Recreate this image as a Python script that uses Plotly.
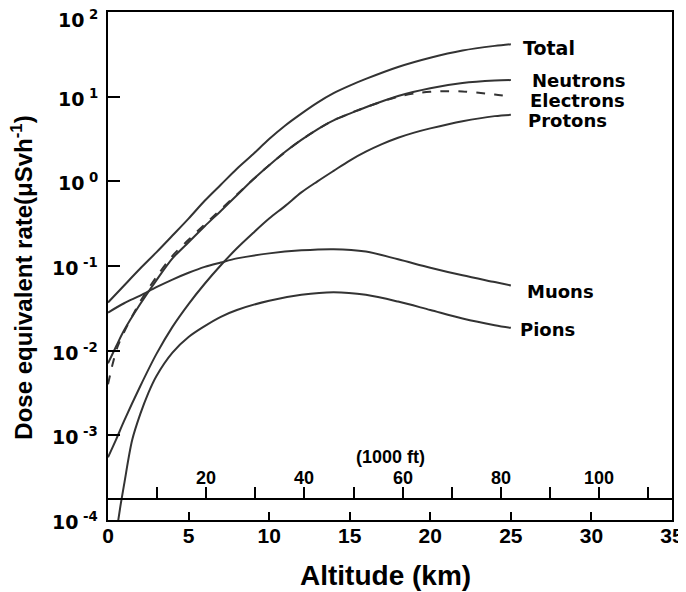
import math
import plotly.graph_objects as go

# ---- data (altitude in km, dose equivalent rate in uSv/h) ----
total_km = [0, 1, 2, 3, 4, 5, 6, 7, 8, 9, 10, 11, 12, 13, 14, 15, 16, 18, 20, 22, 24, 25]
total_val = [0.037, 0.0589, 0.0933, 0.145, 0.229, 0.363, 0.589, 0.912, 1.41, 2.09, 3.16,
             4.57, 6.31, 8.51, 11.0, 13.5, 16.2, 22.4, 28.8, 35.1, 39.8, 41.7]

neutron_km = [0, 0.5, 1, 2, 3, 4, 5, 6, 7, 8, 9, 10, 11, 12, 13, 14, 15, 16, 18, 20, 22, 24, 25]
neutron_val = [0.0071, 0.0112, 0.0174, 0.0355, 0.0676, 0.123, 0.191, 0.295, 0.447, 0.684,
               1.05, 1.55, 2.24, 3.09, 4.12, 5.25, 6.31, 7.5, 10.2, 12.6, 14.5, 15.5, 15.7]

electron_km = [0, 0.3, 0.6, 1, 2, 3, 4, 5, 6, 8, 10, 12, 14, 16, 18, 19, 20, 21, 22, 23, 24, 25]
electron_val = [0.004, 0.0071, 0.0112, 0.0166, 0.038, 0.074, 0.132, 0.204, 0.31, 0.70,
                1.55, 3.09, 5.25, 7.5, 10.0, 10.9, 11.4, 11.6, 11.5, 11.1, 10.6, 10.0]

proton_km = [0, 0.5, 1, 2, 3, 4, 5, 6, 7, 8, 9, 10, 11, 12, 13, 14, 15, 16, 17, 18, 19, 20, 22, 24, 25]
proton_val = [5.5e-4, 8.9e-4, 1.48e-3, 3.8e-3, 9.1e-3, 0.0191, 0.0355, 0.0617, 0.102, 0.162,
              0.245, 0.363, 0.513, 0.741, 1.0, 1.33, 1.76, 2.24, 2.75, 3.27, 3.76, 4.22,
              5.13, 5.89, 6.1]

muon_km = [0, 1, 2, 3, 4, 5, 6, 7, 8, 10, 12, 14, 16, 18, 20, 22, 24, 25]
muon_val = [0.0282, 0.0363, 0.0447, 0.0562, 0.0692, 0.0832, 0.0977, 0.110, 0.123,
            0.141, 0.153, 0.158, 0.148, 0.120, 0.0955, 0.0776, 0.0646, 0.0589]

pion_km = [0.6, 0.8, 1.0, 1.5, 2, 2.5, 3, 4, 5, 6, 7, 8, 10, 12, 14, 16, 18, 20, 22, 24, 25]
pion_val = [8.9e-5, 1.58e-4, 2.63e-4, 8.8e-4, 1.78e-3, 3.16e-3, 5.0e-3, 9.5e-3, 0.0145,
            0.0195, 0.0251, 0.0302, 0.0389, 0.0457, 0.049, 0.0457, 0.038, 0.0302,
            0.024, 0.02, 0.0186]

y_tick_vals = [1e-4, 1e-3, 1e-2, 1e-1, 1e0, 1e1, 1e2]
y_tick_text = ["10<sup> -4</sup>", "10<sup> -3</sup>", "10<sup> -2</sup>", "10<sup> -1</sup>",
               "10<sup> 0</sup>", "10<sup> 1</sup>", "10<sup> 2</sup>"]
x_tick_vals = [0, 5, 10, 15, 20, 25, 30, 35]
ft_tick_vals = [10, 20, 30, 40, 50, 60, 70, 80, 90, 100, 110]
ft_label_vals = [20, 40, 60, 80, 100]

KM_PER_KFT = 0.3048
X_MAX_KM = 35

LINE = "#333333"
ARIAL = "Liberation Sans"
WIDE = "DejaVu Sans"

fig = go.Figure()

series = [
    (total_km, total_val, "Total", "solid"),
    (neutron_km, neutron_val, "Neutrons", "solid"),
    (electron_km, electron_val, "Electrons", "dash"),
    (proton_km, proton_val, "Protons", "solid"),
    (muon_km, muon_val, "Muons", "solid"),
    (pion_km, pion_val, "Pions", "solid"),
]
for xs, ys, name, dash in series:
    fig.add_trace(go.Scatter(x=xs, y=ys, mode="lines", name=name,
                             line=dict(color=LINE, width=2, dash=dash, shape="spline", smoothing=0.9),
                             showlegend=False, xaxis="x", yaxis="y"))

# invisible trace to activate the feet axis
fig.add_trace(go.Scatter(x=[0, X_MAX_KM / KM_PER_KFT], y=[1e-5, 1e-5], mode="lines",
                         line=dict(width=0), showlegend=False, hoverinfo="skip",
                         xaxis="x2", yaxis="y"))

# the page body adds an 8px offset, so the figure is 8px smaller and margins shifted
fig.update_layout(
    width=678, height=584,
    margin=dict(l=100, r=14, t=4, b=72, autoexpand=False),
    paper_bgcolor="white", plot_bgcolor="white",
    font=dict(family=ARIAL, color="black"),
    xaxis=dict(range=[0, X_MAX_KM], tickvals=x_tick_vals, ticks="inside", ticklen=8,
               tickwidth=2, tickcolor="black", showline=True, linecolor="black", linewidth=2,
               mirror=True, showgrid=False, zeroline=False, automargin=False,
               ticklabeloverflow="allow", ticklabelstandoff=-4,
               tickfont=dict(size=21, family=ARIAL, weight="bold")),
    xaxis2=dict(range=[0, X_MAX_KM / KM_PER_KFT], overlaying="x", anchor="free",
                position=0.0413, side="top", tickvals=ft_tick_vals, showticklabels=False,
                ticks="outside", ticklen=11, tickwidth=2, tickcolor="black", automargin=False,
                showline=True, linecolor="black", linewidth=2, showgrid=False, zeroline=False),
    yaxis=dict(type="log", range=[-4, 2], tickvals=y_tick_vals, showticklabels=False,
               ticks="inside", ticklen=12, tickwidth=2, tickcolor="black", automargin=False,
               showline=True, linecolor="black", linewidth=2, mirror=True,
               showgrid=False, zeroline=False),
)

# y tick labels
for i, (v, t) in enumerate(zip(y_tick_vals, y_tick_text)):
    fig.add_annotation(x=-0.0142, y=math.log10(v), xref="paper", yref="y", text=t,
                       showarrow=False, xanchor="right", yanchor="middle",
                       yshift=(-7 if i == len(y_tick_vals) - 1 else -1),
                       font=dict(size=19, family=WIDE, weight="bold"))

# feet axis labels and title
for v in ft_label_vals:
    fig.add_annotation(x=v, y=0.0827, xref="x2", yref="paper", text=str(v),
                       showarrow=False, xanchor="center", yanchor="middle",
                       font=dict(size=18, family=ARIAL, weight="bold"))
fig.add_annotation(x=0.5, y=0.124, xref="paper", yref="paper", text="(1000 ft)",
                   showarrow=False, xanchor="center", yanchor="middle",
                   font=dict(size=18, family=ARIAL, weight="bold"))

labels = [
    ("Total", 25.68, 1.577, 19),
    ("Neutrons", 26.24, 1.19, 18),
    ("Electrons", 26.15, 0.955, 18),
    ("Protons", 25.99, 0.722, 18),
    ("Muons", 25.95, -1.296, 18),
    ("Pions", 25.53, -1.748, 18),
]
for text, lx, ly, sz in labels:
    fig.add_annotation(x=lx, y=ly, xref="x", yref="y", text=text, showarrow=False,
                       xanchor="left", yanchor="middle", borderpad=0,
                       font=dict(size=sz, family=WIDE, color="black", weight="bold"))

fig.add_annotation(x=-0.1525, y=0.477, xref="paper", yref="paper",
                   text="Dose equivalent rate(μSvh<sup>-1</sup>)", textangle=-90,
                   showarrow=False, xanchor="center", yanchor="middle",
                   font=dict(size=24, family=ARIAL, weight="bold"))
fig.add_annotation(x=0.492, y=-0.109, xref="paper", yref="paper",
                   text="Altitude (km)", showarrow=False, xanchor="center", yanchor="middle",
                   borderpad=0, font=dict(size=28, family=ARIAL, weight="bold"))

fig.write_html("out.html")
